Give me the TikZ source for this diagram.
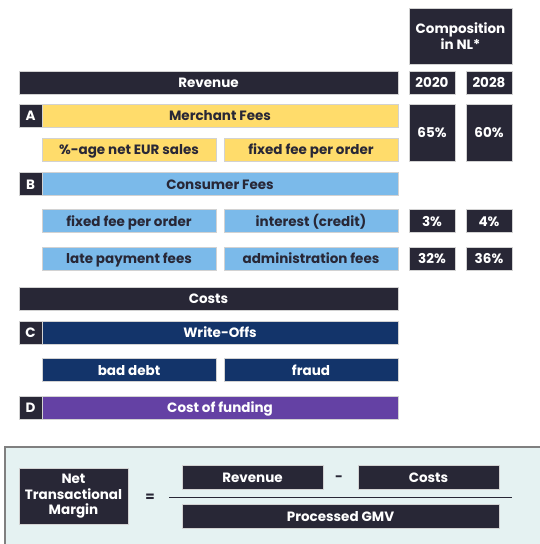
\documentclass[tikz,border=0pt]{standalone}
\usepackage{fontspec}
\setmainfont{Poppins}
\usetikzlibrary{positioning}

\definecolor{darkbox}{HTML}{282736}
\definecolor{yellowbox}{HTML}{FFDC6B}
\definecolor{bluebox}{HTML}{7BBAEA}
\definecolor{navybox}{HTML}{13346A}
\definecolor{purplebox}{HTML}{6441A4}
\definecolor{panelfill}{HTML}{E5F2F2}

\begin{document}
\begin{tikzpicture}[x=1pt, y=-1pt,
    box/.style={rectangle, inner sep=0pt, draw=gray!35, line width=0.4pt,
      font=\bfseries\fontsize{13.5}{15.5}\selectfont, align=center},
    bar/.style={box, text height=1.08em, text depth=0.05em},
    darkbar/.style={bar, fill=darkbox, text=white},
    yellowbar/.style={bar, fill=yellowbox, text=darkbox},
    bluebar/.style={bar, fill=bluebox, text=darkbox},
    navybar/.style={bar, fill=navybox, text=white},
    purplebar/.style={bar, fill=purplebox, text=white},
    tallbox/.style={box, fill=darkbox, text=white},
    letterbox/.style={darkbar, minimum width=23pt, minimum height=23pt}]
  \useasboundingbox (0,0) rectangle (539,544);

  % header
  \node[tallbox, minimum width=103pt, minimum height=56pt] (comp) at (460.5,36) {Composition\\in NL*};
  \node[darkbar, minimum width=379pt, minimum height=23pt] (rev) at (208.5,82.5) {Revenue};
  \node[darkbar, minimum width=46pt, minimum height=23pt] (y2020) at (432,82.5) {2020};
  \node[darkbar, minimum width=46pt, minimum height=23pt] (y2028) at (489,82.5) {2028};

  % A
  \node[letterbox] (A) at (30.5,115.5) {A};
  \node[yellowbar, minimum width=356pt, minimum height=23pt] (merchant) at (220,115.5) {Merchant Fees};
  \node[yellowbar, minimum width=174pt, minimum height=23pt] (pctsales) at (129,149.5) {\%-age net EUR sales};
  \node[yellowbar, minimum width=174pt, minimum height=23pt] (fixedm) at (311,149.5) {fixed fee per order};
  \node[darkbar, minimum width=46pt, minimum height=57pt] (p65) at (432,132.5) {65\%};
  \node[darkbar, minimum width=46pt, minimum height=57pt] (p60) at (489,132.5) {60\%};

  % B
  \node[letterbox] (B) at (30.5,184) {B};
  \node[bluebar, minimum width=356pt, minimum height=23pt] (consumer) at (220,184) {Consumer Fees};
  \node[bluebar, minimum width=174pt, minimum height=23pt] (fixedc) at (129,221) {fixed fee per order};
  \node[bluebar, minimum width=174pt, minimum height=23pt] (interest) at (311,221) {interest (credit)};
  \node[bluebar, minimum width=174pt, minimum height=23pt] (late) at (129,258.5) {late payment fees};
  \node[bluebar, minimum width=174pt, minimum height=23pt] (admin) at (311,258.5) {administration fees};
  \node[darkbar, minimum width=46pt, minimum height=23pt] (p3) at (432,221) {3\%};
  \node[darkbar, minimum width=46pt, minimum height=23pt] (p4) at (489,221) {4\%};
  \node[darkbar, minimum width=46pt, minimum height=23pt] (p32) at (432,258.5) {32\%};
  \node[darkbar, minimum width=46pt, minimum height=23pt] (p36) at (489,258.5) {36\%};

  % costs
  \node[darkbar, minimum width=379pt, minimum height=23pt] (costs) at (208.5,298.5) {Costs};
  \node[letterbox] (C) at (30.5,332.5) {C};
  \node[navybar, minimum width=356pt, minimum height=23pt] (writeoffs) at (220,332.5) {Write-Offs};
  \node[navybar, minimum width=174pt, minimum height=23pt] (baddebt) at (129,370) {bad debt};
  \node[navybar, minimum width=174pt, minimum height=23pt] (fraud) at (311,370) {fraud};
  \node[letterbox] (D) at (30.5,407.5) {D};
  \node[purplebar, minimum width=356pt, minimum height=23pt] (funding) at (220,407.5) {Cost of funding};

  % formula panel
  \draw[gray, line width=1.2pt, fill=panelfill] (5,447) rectangle (548,552);
  \node[tallbox, minimum width=109pt, minimum height=56pt] (ntm) at (73.5,496.5) {Net\\Transactional\\Margin};
  \node[font=\bfseries\fontsize{13.5}{15.5}\selectfont, text=darkbox] (eq) at (150,498) {=};
  \node[darkbar, minimum width=141pt, minimum height=24pt] (frev) at (252.5,477) {Revenue};
  \node[font=\bfseries\fontsize{13.5}{15.5}\selectfont, text=darkbox] (minus) at (339,479) {-};
  \node[darkbar, minimum width=141pt, minimum height=24pt] (fcosts) at (428.5,477) {Costs};
  \node[darkbar, minimum width=317pt, minimum height=24pt] (gmv) at (340.5,516) {Processed GMV};
  \coordinate (fracL) at (169,497);
  \coordinate (fracR) at (512,497);
  \draw[darkbox, line width=1pt] (fracL) -- (fracR);
\end{tikzpicture}
\end{document}
